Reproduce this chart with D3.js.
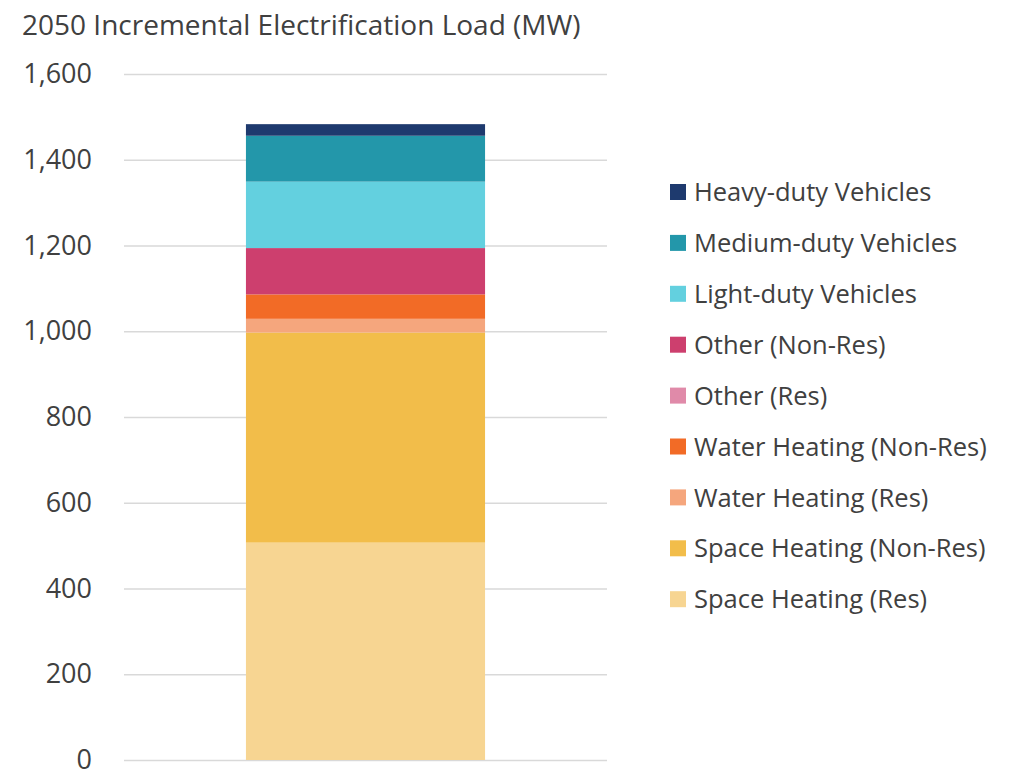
<!DOCTYPE html>
<html>
<head>
<meta charset="utf-8">
<script src="https://cdn.jsdelivr.net/npm/d3@7"></script>
<style>
  body { margin: 0; background: #fff; }
  text { font-family: "Open Sans", sans-serif; fill: #404040; }
</style>
</head>
<body>
<div class="chart"></div>
<script>
// series, bottom to top
const seriesNames = [
  'Space Heating (Res)',
  'Space Heating (Non-Res)',
  'Water Heating (Res)',
  'Water Heating (Non-Res)',
  'Other (Res)',
  'Other (Non-Res)',
  'Light-duty Vehicles',
  'Medium-duty Vehicles',
  'Heavy-duty Vehicles'
];
const seriesValues = [507, 490, 32, 57, 0, 108, 155, 107, 27];
const seriesColors = ['#f7d592', '#f2bd4a', '#f5a67d', '#f26b26', '#e08aa9', '#cd3f6e', '#63d0df', '#2397aa', '#1e3a6e'];
// legend order differs from stack order
const legendOrder = [
  'Heavy-duty Vehicles',
  'Medium-duty Vehicles',
  'Light-duty Vehicles',
  'Other (Non-Res)',
  'Other (Res)',
  'Water Heating (Non-Res)',
  'Water Heating (Res)',
  'Space Heating (Non-Res)',
  'Space Heating (Res)'
];
const categories = ['2050'];
const yTicks = [0, 200, 400, 600, 800, 1000, 1200, 1400, 1600];
const title = '2050 Incremental Electrification Load (MW)';

const FULL_WIDTH = 1015;
const FULL_HEIGHT = 770;
const margin = { top: 74, left: 124 };
const width = 483;
const height = 686;

const svg = d3.select('.chart')
  .append('svg')
    .attr('width', FULL_WIDTH)
    .attr('height', FULL_HEIGHT);

svg.append('text')
  .attr('x', 22)
  .attr('y', 35)
  .style('font-size', '28px')
  .text(title);

const g = svg.append('g')
  .attr('transform', `translate(${margin.left}, ${margin.top})`);

const xScale = d3.scaleBand()
  .domain(categories)
  .range([0, width])
  .paddingInner(0)
  .paddingOuter(0.51);

const yScale = d3.scaleLinear()
  .domain([0, 1600])
  .range([height, 0]);

const yAxis = g.append('g')
  .call(d3.axisLeft(yScale)
    .tickValues(yTicks)
    .tickSize(-width)
    .tickPadding(32)
    .tickFormat(d3.format(',')));
yAxis.select('.domain').remove();
yAxis.selectAll('.tick line')
  .attr('stroke', '#d9d9d9')
  .attr('stroke-width', 1.6);
yAxis.selectAll('.tick text')
  .style('font-family', '"Open Sans", sans-serif')
  .style('font-size', '27px')
  .attr('fill', '#404040');

const row = { x: categories[0] };
seriesNames.forEach((n, i) => { row[n] = seriesValues[i]; });
const stacked = d3.stack().keys(seriesNames)([row]);
const color = d3.scaleOrdinal().domain(seriesNames).range(seriesColors);

g.selectAll('.layer')
  .data(stacked)
  .enter()
  .append('rect')
    .attr('class', 'layer')
    .attr('x', xScale(categories[0]))
    .attr('width', xScale.bandwidth())
    .attr('y', d => yScale(d[0][1]))
    .attr('height', d => yScale(d[0][0]) - yScale(d[0][1]))
    .attr('fill', d => color(d.key));

const legend = svg.append('g')
  .attr('transform', 'translate(670, 192)');
const item = legend.selectAll('.item')
  .data(legendOrder)
  .enter()
  .append('g')
    .attr('class', 'item')
    .attr('transform', (d, i) => `translate(0, ${i * 50.9})`);
item.append('rect')
  .attr('x', 0)
  .attr('y', -8)
  .attr('width', 16)
  .attr('height', 16)
  .attr('fill', d => color(d));
item.append('text')
  .attr('x', 24)
  .attr('dy', '0.36em')
  .style('font-size', '25.5px')
  .text(d => d);
</script>
</body>
</html>
